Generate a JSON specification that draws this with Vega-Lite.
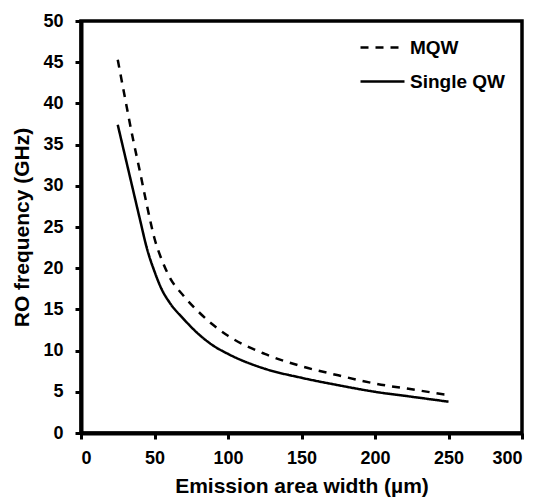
{
  "$schema": "https://vega.github.io/schema/vega-lite/v6.json",
  "width": 441,
  "height": 412,
  "autosize": {"type": "none"},
  "padding": {"left": 81, "top": 21, "right": 20, "bottom": 66},
  "background": "white",
  "view": {"stroke": "black", "strokeWidth": 3.5},
  "data": {
    "values": [
      {"series": "MQW", "x": 25, "y": 45.3},
      {"series": "MQW", "x": 30, "y": 40.6},
      {"series": "MQW", "x": 35, "y": 36.0},
      {"series": "MQW", "x": 40, "y": 31.8},
      {"series": "MQW", "x": 45, "y": 27.5},
      {"series": "MQW", "x": 50, "y": 23.6},
      {"series": "MQW", "x": 55, "y": 21.0},
      {"series": "MQW", "x": 60, "y": 19.0},
      {"series": "MQW", "x": 70, "y": 16.6},
      {"series": "MQW", "x": 80, "y": 14.7},
      {"series": "MQW", "x": 90, "y": 13.1},
      {"series": "MQW", "x": 100, "y": 11.8},
      {"series": "MQW", "x": 125, "y": 9.6},
      {"series": "MQW", "x": 150, "y": 8.1},
      {"series": "MQW", "x": 175, "y": 7.0},
      {"series": "MQW", "x": 200, "y": 6.0},
      {"series": "MQW", "x": 225, "y": 5.3},
      {"series": "MQW", "x": 250, "y": 4.6},
      {"series": "Single QW", "x": 25, "y": 37.4},
      {"series": "Single QW", "x": 30, "y": 33.6},
      {"series": "Single QW", "x": 35, "y": 29.8},
      {"series": "Single QW", "x": 40, "y": 26.0},
      {"series": "Single QW", "x": 45, "y": 22.3},
      {"series": "Single QW", "x": 50, "y": 19.6},
      {"series": "Single QW", "x": 55, "y": 17.4},
      {"series": "Single QW", "x": 60, "y": 15.9},
      {"series": "Single QW", "x": 70, "y": 13.8},
      {"series": "Single QW", "x": 80, "y": 12.0},
      {"series": "Single QW", "x": 90, "y": 10.6},
      {"series": "Single QW", "x": 100, "y": 9.6},
      {"series": "Single QW", "x": 125, "y": 7.8},
      {"series": "Single QW", "x": 150, "y": 6.7},
      {"series": "Single QW", "x": 175, "y": 5.8},
      {"series": "Single QW", "x": 200, "y": 5.0},
      {"series": "Single QW", "x": 225, "y": 4.4},
      {"series": "Single QW", "x": 250, "y": 3.8}
    ]
  },
  "mark": {"type": "line", "color": "black", "strokeWidth": 2.5, "interpolate": "monotone"},
  "encoding": {
    "x": {
      "field": "x", "type": "quantitative",
      "scale": {"domain": [0, 300], "nice": false},
      "axis": {
        "values": [0, 50, 100, 150, 200, 250, 300],
        "title": "Emission area width (µm)",
        "grid": false,
        "domainColor": "black", "domainWidth": 4,
        "tickColor": "black", "tickWidth": 3, "tickSize": 6,
        "labelFont": "Liberation Sans", "labelFontWeight": "bold", "labelFontSize": 18, "labelColor": "black",
        "labelPadding": 10,
        "titleFont": "Liberation Sans", "titleFontWeight": "bold", "titleFontSize": 21, "titleColor": "black",
        "titlePadding": 8
      }
    },
    "y": {
      "field": "y", "type": "quantitative",
      "scale": {"domain": [0, 50], "nice": false},
      "axis": {
        "values": [0, 5, 10, 15, 20, 25, 30, 35, 40, 45, 50],
        "title": "RO frequency (GHz)",
        "grid": false,
        "domainColor": "black", "domainWidth": 4,
        "tickColor": "black", "tickWidth": 3, "tickSize": 6,
        "labelFont": "Liberation Sans", "labelFontWeight": "bold", "labelFontSize": 18, "labelColor": "black",
        "labelPadding": 12,
        "titleFont": "Liberation Sans", "titleFontWeight": "bold", "titleFontSize": 21, "titleColor": "black",
        "titlePadding": 10
      }
    },
    "strokeDash": {
      "field": "series", "type": "nominal",
      "scale": {"domain": ["MQW", "Single QW"], "range": [[8, 7], [1, 0]]},
      "legend": {
        "title": null,
        "orient": "none",
        "legendX": 278,
        "legendY": 3,
        "symbolType": "stroke",
        "symbolSize": 1936,
        "symbolStrokeWidth": 2.5,
        "symbolStrokeColor": "black",
        "labelFont": "Liberation Sans",
        "labelFontWeight": "bold",
        "labelFontSize": 19,
        "labelColor": "black",
        "labelOffset": 4,
        "rowPadding": -11
      }
    }
  }
}
